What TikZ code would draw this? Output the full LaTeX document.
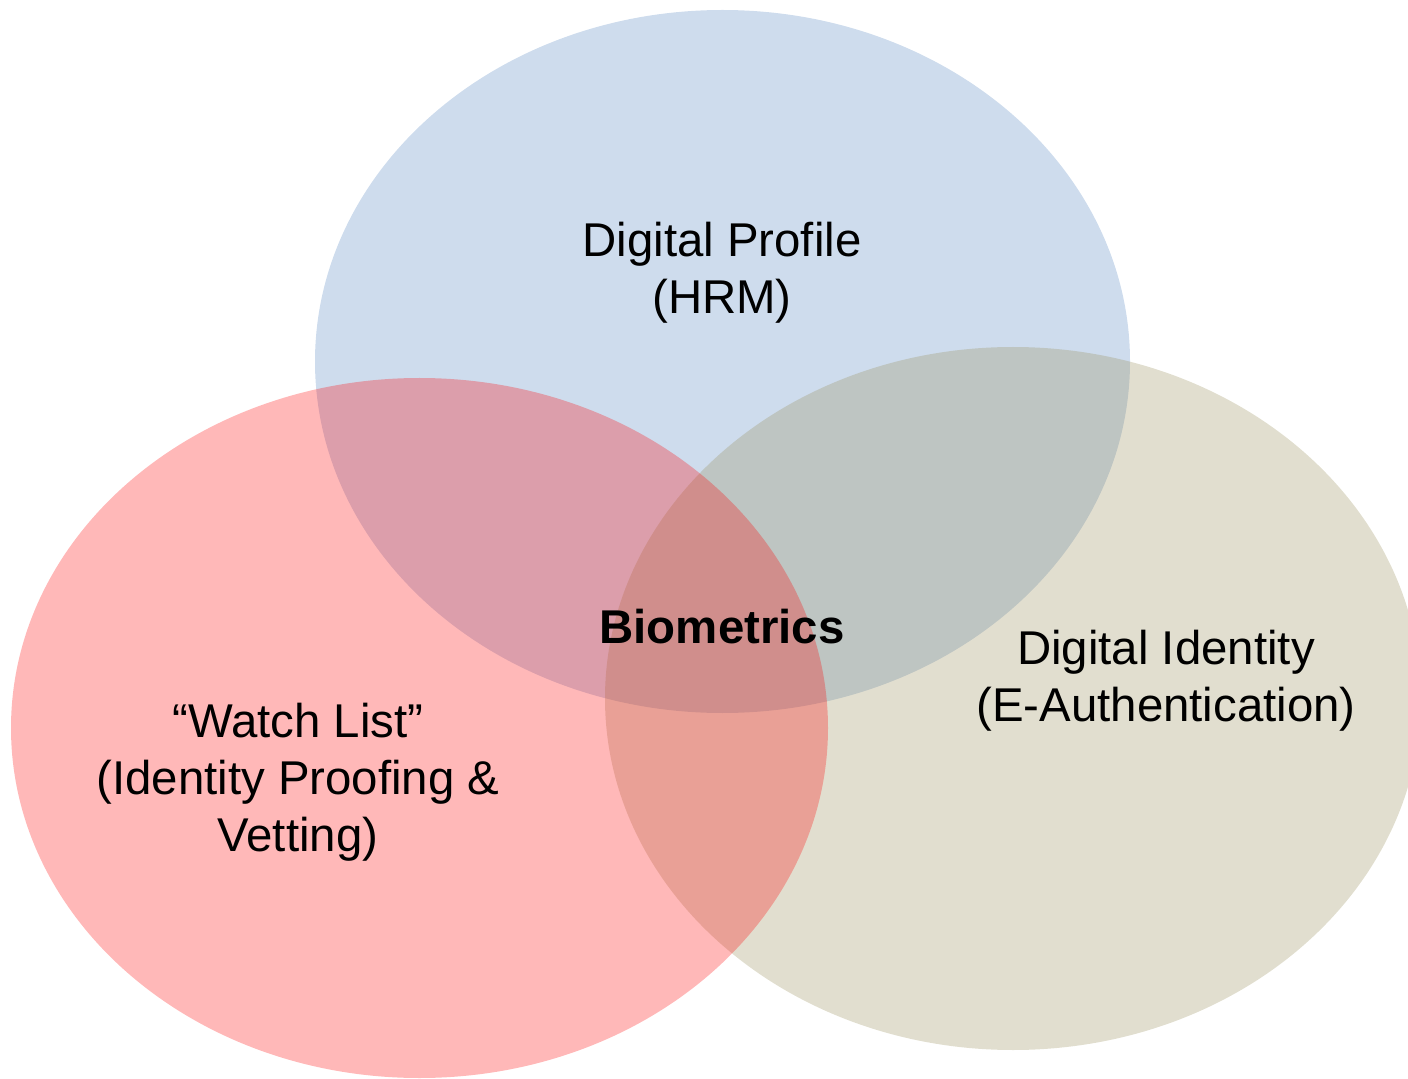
\documentclass[tikz,border=0pt]{standalone}
\usepackage{fontspec}
\setmainfont{Liberation Sans}
\usepackage{xcolor}
\definecolor{hrmblue}{HTML}{4F81BD}
\definecolor{authtan}{HTML}{948A54}
\definecolor{watchred}{HTML}{FF0000}

\begin{document}
\begin{tikzpicture}[x=0.5pt, y=0.5pt, set/.style = {fill opacity=0.28}, txt/.style = {align=center, inner sep=0pt, font=\fontsize{23.7pt}{28.5pt}\selectfont}]
    \useasboundingbox (0,0) rectangle (1408,1078);

    \coordinate (P) at (722.5,716.5);
    \coordinate (I) at (1013,379.5);
    \coordinate (W) at (419.5,350);

    \fill[set, hrmblue] (P) ellipse [x radius=407.5, y radius=351.5];
    \fill[set, authtan] (I) ellipse [x radius=408, y radius=351.5];
    \fill[set, watchred] (W) ellipse [x radius=408.5, y radius=350];

    \node[txt] (hrm) at (722,805) {Digital Profile\\(HRM)};
    \node[txt] (bio) at (722,451) {\bfseries Biometrics};
    \node[txt] (auth) at (1166,397) {Digital Identity\\(E-Authentication)};
    \node[txt] (watch) at (298,296) {“Watch List”\\(Identity Proofing \&\\Vetting)};
\end{tikzpicture}
\end{document}
